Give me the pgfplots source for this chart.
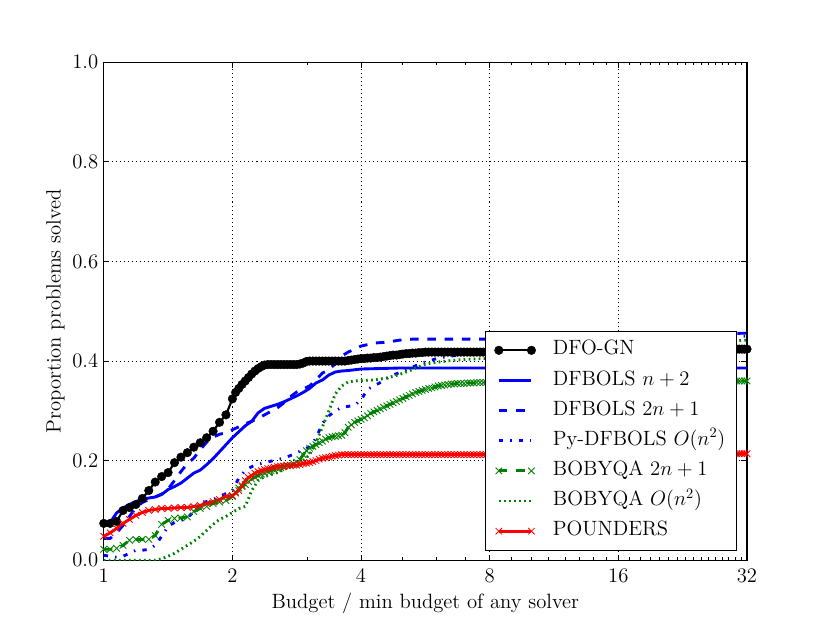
\documentclass[border=0pt]{standalone}
\usepackage{pgfplots}
\pgfplotsset{compat=1.18}
\definecolor{mgreen}{rgb}{0,0.5,0}
\newcommand{\fs}{\fontsize{14.4}{17}\selectfont}
\begin{document}
\begin{tikzpicture}
\useasboundingbox (0,0) rectangle (578.16pt,433.62pt);
\begin{axis}[
  at={(72.27pt,43.36pt)}, anchor=south west,
  scale only axis, width=448.07pt, height=346.9pt,
  xmin=0, xmax=5, ymin=0, ymax=1,
  xtick={0,1,2,3,4,5}, xticklabels={1,2,4,8,16,32},
  minor xtick={1.585,2.322,2.585,2.807,3.170,3.322,3.459,3.585,3.700,3.807,3.907,4.087,4.170,4.248,4.322,4.392,4.459,4.524,4.585,4.644,4.700,4.755,4.807,4.858,4.907,4.954},
  ytick={0,0.2,0.4,0.6,0.8,1},
  yticklabel style={/pgf/number format/fixed, /pgf/number format/fixed zerofill, /pgf/number format/precision=1, inner sep=0pt, xshift=-3.7pt},
  tick label style={font=\fs},
  xticklabel style={inner sep=0pt, yshift=-5.5pt},
  tick align=inside, major tick length=4pt, minor tick length=2pt,
  every tick/.style={black, line width=0.5pt},
  grid=major, major grid style={black, line width=0.5pt, dash pattern=on 0.7pt off 2.1pt},
  axis line style={line width=0.8pt},
  xlabel={Budget / min budget of any solver},
  ylabel={Proportion problems solved},
  every axis x label/.style={at={(axis description cs:0.5,-0.0863)}, anchor=center, font=\fs},
  every axis y label/.style={at={(axis description cs:-0.075,0.5)}, rotate=90, anchor=center, font=\fs},
  legend cell align=left,
  legend style={at={(axis description cs:0.985,0.019)}, anchor=south east,
    draw=black, line width=0.8pt, fill=white, font=\fs,
    inner xsep=6pt, inner ysep=4.5pt, row sep=3.5pt,
    nodes={inner sep=2pt, text height=10pt, text depth=3.5pt},
    /tikz/every odd column/.append style={column sep=10pt}},
  legend image code/.code={\draw[mark repeat=2,mark phase=1,#1] plot coordinates {(0pt,0pt) (11.35pt,0pt) (22.7pt,0pt)};},
]
% DFO-GN
\addplot[black, line width=1.5pt, mark=*, mark size=3pt, mark options={solid, line width=0.3pt, fill=black}] coordinates {
(0.00,0.074)(0.05,0.074)(0.10,0.078)(0.15,0.100)(0.20,0.106)(0.25,0.112)(0.30,0.124)(0.35,0.140)(0.40,0.157)(0.45,0.168)
(0.50,0.176)(0.55,0.196)(0.60,0.207)(0.65,0.216)(0.70,0.227)(0.75,0.236)(0.80,0.246)(0.85,0.259)(0.90,0.277)(0.95,0.292)
(1.000,0.324)(1.025,0.337)(1.050,0.345)(1.075,0.353)(1.100,0.360)(1.125,0.367)(1.150,0.374)(1.175,0.380)(1.200,0.385)(1.225,0.389)
(1.250,0.392)(1.275,0.393)(1.300,0.393)(1.325,0.393)(1.350,0.393)(1.375,0.393)(1.400,0.393)(1.425,0.393)(1.450,0.393)(1.475,0.393)
(1.500,0.393)(1.525,0.394)(1.550,0.396)(1.575,0.399)(1.600,0.400)(1.625,0.400)(1.650,0.400)(1.675,0.400)(1.700,0.400)(1.725,0.400)
(1.750,0.400)(1.775,0.400)(1.800,0.400)(1.825,0.400)(1.850,0.400)(1.875,0.400)(1.900,0.401)(1.925,0.402)(1.950,0.403)(1.975,0.404)
(2.000,0.405)(2.025,0.405)(2.050,0.406)(2.075,0.406)(2.100,0.407)(2.125,0.407)(2.150,0.408)(2.175,0.409)(2.200,0.410)(2.225,0.411)
(2.250,0.412)(2.275,0.412)(2.300,0.413)(2.325,0.414)(2.350,0.415)(2.375,0.415)(2.400,0.416)(2.425,0.416)(2.450,0.417)(2.475,0.417)
(2.500,0.418)(2.525,0.418)(2.550,0.418)(2.575,0.418)(2.600,0.418)(2.625,0.418)(2.650,0.418)(2.675,0.418)(2.700,0.418)(2.725,0.418)
(2.750,0.418)(2.775,0.418)(2.800,0.418)(2.825,0.418)(2.850,0.418)(2.875,0.418)(2.900,0.418)(2.925,0.418)(2.950,0.418)(2.975,0.418)
(3.000,0.418)(3.5,0.419)(4.0,0.420)(4.5,0.422)(4.90,0.423)(4.92,0.424)(4.94,0.424)(4.96,0.424)(4.98,0.424)(5.00,0.424)
};
\addlegendentry{DFO-GN}
% DFBOLS n+2
\addplot[blue, line width=2pt] coordinates {
(0,0.074)(0.05,0.076)(0.10,0.095)(0.15,0.105)(0.20,0.112)(0.25,0.118)(0.30,0.122)(0.35,0.125)(0.40,0.127)(0.45,0.132)
(0.50,0.142)(0.55,0.148)(0.60,0.155)(0.65,0.165)(0.70,0.175)(0.75,0.181)(0.80,0.192)(0.85,0.204)(0.90,0.218)(0.95,0.232)
(1.00,0.246)(1.05,0.258)(1.10,0.270)(1.15,0.279)(1.20,0.296)(1.25,0.305)(1.30,0.309)(1.35,0.313)(1.40,0.318)(1.45,0.324)
(1.50,0.330)(1.55,0.337)(1.60,0.345)(1.65,0.356)(1.70,0.362)(1.75,0.372)(1.80,0.378)(1.85,0.380)(1.90,0.381)(2.00,0.384)
(2.15,0.385)(2.30,0.386)(5.00,0.386)
};
\addlegendentry{DFBOLS $n+2$}
% DFBOLS 2n+1
\addplot[blue, line width=2pt, dash pattern=on 6pt off 6pt] coordinates {
(0,0.044)(0.05,0.044)(0.10,0.055)(0.15,0.070)(0.20,0.088)(0.25,0.106)(0.30,0.116)(0.35,0.122)(0.40,0.127)(0.45,0.133)
(0.50,0.143)(0.55,0.160)(0.60,0.178)(0.65,0.194)(0.70,0.205)(0.75,0.222)(0.80,0.237)(0.85,0.247)(0.90,0.253)(0.95,0.256)
(1.00,0.262)(1.05,0.268)(1.10,0.274)(1.15,0.279)(1.20,0.285)(1.25,0.292)(1.30,0.299)(1.35,0.306)(1.40,0.316)(1.45,0.328)
(1.50,0.338)(1.55,0.344)(1.60,0.350)(1.65,0.362)(1.70,0.376)(1.75,0.382)(1.80,0.395)(1.85,0.410)(1.90,0.418)(1.95,0.424)
(2.00,0.430)(2.10,0.436)(2.20,0.438)(2.30,0.442)(2.40,0.444)(3.00,0.444)(4.00,0.450)(5.00,0.456)
};
\addlegendentry{DFBOLS $2n+1$}
% Py-DFBOLS O(n^2)
\addplot[blue, line width=2pt, dash pattern=on 3pt off 5pt on 1pt off 5pt] coordinates {
(0,0.010)(0.05,0.008)(0.10,0.006)(0.15,0.008)(0.20,0.014)(0.25,0.020)(0.30,0.020)(0.35,0.022)(0.40,0.030)(0.45,0.048)
(0.50,0.068)(0.55,0.076)(0.60,0.080)(0.65,0.085)(0.70,0.098)(0.75,0.112)(0.80,0.118)(0.85,0.122)(0.90,0.128)(0.95,0.134)
(1.00,0.140)(1.05,0.165)(1.10,0.180)(1.15,0.188)(1.20,0.193)(1.25,0.196)(1.30,0.199)(1.35,0.202)(1.40,0.205)(1.45,0.210)
(1.50,0.216)(1.55,0.222)(1.60,0.228)(1.65,0.245)(1.70,0.275)(1.75,0.290)(1.80,0.300)(1.85,0.307)(1.90,0.309)(1.95,0.311)
(2.00,0.322)(2.05,0.343)(2.10,0.350)(2.15,0.357)(2.20,0.365)(2.25,0.372)(2.30,0.377)(2.40,0.388)(2.50,0.398)(2.60,0.406)
(2.70,0.410)(2.80,0.413)(2.95,0.416)(4.00,0.440)(5.00,0.450)
};
\addlegendentry{Py-DFBOLS $O(n^2)$}
% BOBYQA 2n+1
\addplot[mgreen, line width=2pt, dash pattern=on 6pt off 6pt, mark=x, mark size=3.2pt, mark options={solid, line width=0.6pt}] coordinates {
(0,0.022)(0.05,0.022)(0.10,0.024)(0.15,0.030)(0.20,0.040)(0.25,0.042)(0.30,0.042)(0.35,0.042)(0.40,0.050)(0.45,0.072)
(0.50,0.080)(0.55,0.084)(0.60,0.085)(0.65,0.087)(0.70,0.098)(0.75,0.104)(0.80,0.108)(0.85,0.114)(0.90,0.117)(0.95,0.120)
(1.000,0.128)(1.025,0.137)(1.050,0.145)(1.075,0.148)(1.100,0.152)(1.125,0.158)(1.150,0.163)(1.175,0.167)(1.200,0.170)(1.225,0.173)
(1.250,0.175)(1.275,0.178)(1.300,0.180)(1.325,0.182)(1.350,0.184)(1.375,0.186)(1.400,0.188)(1.425,0.190)(1.450,0.191)(1.475,0.194)
(1.500,0.197)(1.525,0.202)(1.550,0.212)(1.575,0.220)(1.600,0.225)(1.625,0.229)(1.650,0.232)(1.675,0.236)(1.700,0.239)(1.725,0.243)
(1.750,0.246)(1.775,0.248)(1.800,0.249)(1.825,0.250)(1.850,0.251)(1.875,0.256)(1.900,0.267)(1.925,0.272)(1.950,0.277)(1.975,0.280)
(2.000,0.283)(2.025,0.286)(2.050,0.290)(2.075,0.295)(2.100,0.298)(2.125,0.301)(2.150,0.304)(2.175,0.307)(2.200,0.310)(2.225,0.313)
(2.250,0.316)(2.275,0.319)(2.300,0.322)(2.325,0.325)(2.350,0.328)(2.375,0.331)(2.400,0.334)(2.425,0.337)(2.450,0.339)(2.475,0.341)
(2.500,0.343)(2.525,0.345)(2.550,0.346)(2.575,0.348)(2.600,0.350)(2.625,0.351)(2.650,0.352)(2.675,0.353)(2.700,0.354)(2.725,0.354)
(2.750,0.355)(2.775,0.355)(2.800,0.355)(2.825,0.356)(2.850,0.356)(2.875,0.356)(2.900,0.357)(2.925,0.357)(2.950,0.357)(2.975,0.357)
(3.000,0.357)(4.0,0.358)(4.90,0.360)(4.92,0.360)(4.94,0.360)(4.96,0.360)(4.98,0.360)(5.00,0.360)
};
\addlegendentry{BOBYQA $2n+1$}
% BOBYQA O(n^2)
\addplot[mgreen, line width=2pt, dash pattern=on 1.2pt off 2.3pt] coordinates {
(0,0)(0.40,0)(0.45,0.003)(0.50,0.008)(0.55,0.014)(0.60,0.022)(0.65,0.030)(0.70,0.038)(0.75,0.048)(0.80,0.060)
(0.85,0.072)(0.90,0.082)(0.95,0.088)(1.00,0.096)(1.05,0.104)(1.10,0.108)(1.15,0.140)(1.20,0.160)(1.25,0.168)(1.30,0.172)
(1.35,0.176)(1.40,0.182)(1.45,0.188)(1.50,0.192)(1.55,0.200)(1.60,0.212)(1.65,0.236)(1.70,0.268)(1.75,0.300)(1.80,0.334)
(1.85,0.350)(1.90,0.358)(1.95,0.360)(2.00,0.361)(2.10,0.362)(2.20,0.366)(2.30,0.373)(2.40,0.383)(2.50,0.394)(2.60,0.398)
(2.70,0.401)(2.80,0.403)(2.95,0.405)(4.00,0.425)(5.00,0.442)
};
\addlegendentry{BOBYQA $O(n^2)$}
% POUNDERS
\addplot[red, line width=2pt, mark=x, mark size=3.2pt, mark options={solid, line width=0.6pt}] coordinates {
(0,0.048)(0.05,0.055)(0.10,0.064)(0.15,0.074)(0.20,0.082)(0.25,0.090)(0.30,0.096)(0.35,0.100)(0.40,0.102)(0.45,0.104)
(0.50,0.104)(0.55,0.105)(0.60,0.106)(0.65,0.106)(0.70,0.108)(0.75,0.110)(0.80,0.114)(0.85,0.118)(0.90,0.122)(0.95,0.128)
(1.000,0.130)(1.025,0.135)(1.050,0.140)(1.075,0.150)(1.100,0.160)(1.125,0.166)(1.150,0.170)(1.175,0.175)(1.200,0.178)(1.225,0.180)
(1.250,0.182)(1.275,0.184)(1.300,0.185)(1.325,0.187)(1.350,0.188)(1.375,0.189)(1.400,0.189)(1.425,0.190)(1.450,0.190)(1.475,0.191)
(1.500,0.191)(1.525,0.192)(1.550,0.194)(1.575,0.195)(1.600,0.196)(1.625,0.198)(1.650,0.200)(1.675,0.203)(1.700,0.205)(1.725,0.206)
(1.750,0.207)(1.775,0.209)(1.800,0.210)(1.825,0.211)(1.850,0.212)(1.875,0.212)(1.900,0.212)(1.925,0.212)(1.950,0.212)(1.975,0.212)
(2.000,0.212)(2.025,0.212)(2.050,0.212)(2.075,0.212)(2.100,0.212)(2.125,0.212)(2.150,0.212)(2.175,0.212)(2.200,0.212)(2.225,0.212)
(2.250,0.212)(2.275,0.212)(2.300,0.212)(2.325,0.212)(2.350,0.212)(2.375,0.212)(2.400,0.212)(2.425,0.212)(2.450,0.212)(2.475,0.212)
(2.500,0.212)(2.525,0.212)(2.550,0.212)(2.575,0.212)(2.600,0.212)(2.625,0.212)(2.650,0.212)(2.675,0.212)(2.700,0.212)(2.725,0.212)
(2.750,0.212)(2.775,0.212)(2.800,0.212)(2.825,0.212)(2.850,0.212)(2.875,0.212)(2.900,0.212)(2.925,0.212)(2.950,0.212)(2.975,0.212)
(3.000,0.212)(4.0,0.213)(4.90,0.214)(4.92,0.214)(4.94,0.214)(4.96,0.214)(4.98,0.214)(5.00,0.214)
};
\addlegendentry{POUNDERS}
\end{axis}
\end{tikzpicture}
\end{document}
